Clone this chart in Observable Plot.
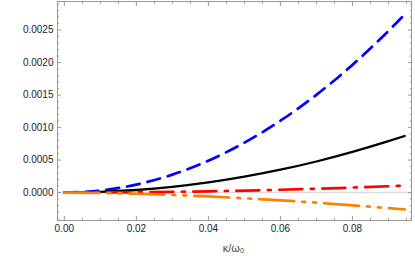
<!DOCTYPE html>
<html>
<head>
<meta charset="utf-8">
<script src="https://cdn.jsdelivr.net/npm/d3@7"></script>
<script src="https://cdn.jsdelivr.net/npm/@observablehq/plot@0.6"></script>
<style>
  html, body { margin: 0; padding: 0; background: #fff; }
  #chart svg { display: block; }
</style>
</head>
<body>
<div id="chart"></div>
<script>
const kappa  = [0, 0.01, 0.02, 0.03, 0.04, 0.05, 0.06, 0.07, 0.08, 0.09, 0.0945];
const blue   = [0, 0.000031, 0.000123, 0.000276, 0.000491, 0.000768, 0.001105, 0.001504, 0.001965, 0.002487, 0.00274];
const black  = [0, 0.0000098, 0.000039, 0.000088, 0.000156, 0.000244, 0.000351, 0.000478, 0.000625, 0.00079, 0.00087];
const red    = [0, 0.0000012, 0.0000048, 0.0000108, 0.000019, 0.00003, 0.000043, 0.000059, 0.000077, 0.000097, 0.000107];
const orange = [0, -0.0000057, -0.0000186, -0.000037, -0.00006, -0.000088, -0.00012, -0.000156, -0.000196, -0.00024, -0.00026];

const xTicks = [0, 0.02, 0.04, 0.06, 0.08];
const xTickLabels = ["0.00", "0.02", "0.04", "0.06", "0.08"];
const yTicks = [0, 0.0005, 0.001, 0.0015, 0.002, 0.0025];
const yTickLabels = ["0.0000", "0.0005", "0.0010", "0.0015", "0.0020", "0.0025"];
const xMinor = [0.005, 0.01, 0.015, 0.025, 0.03, 0.035, 0.045, 0.05, 0.055, 0.065, 0.07, 0.075, 0.085, 0.09, 0.095];
const yMinor = [-0.0004, -0.0003, -0.0002, -0.0001, 0.0001, 0.0002, 0.0003, 0.0004, 0.0006, 0.0007, 0.0008, 0.0009,
  0.0011, 0.0012, 0.0013, 0.0014, 0.0016, 0.0017, 0.0018, 0.0019, 0.0021, 0.0022, 0.0023, 0.0024, 0.0026, 0.0027, 0.0028, 0.0029];
const xLabel = "κ/ω₀";

const series = [
  {name: "blue", values: blue, color: "#0000ff", dash: "13,8", width: 2.7},
  {name: "black", values: black, color: "#000000", dash: null, width: 2.3},
  {name: "red", values: red, color: "#ff0000", dash: "23,8.5,3,8.5", width: 2.7},
  {name: "orange", values: orange, color: "#ff8000", dash: "35,8,3,8,3,8", width: 2.7}
];

const lineMarks = series.map(s => Plot.line(kappa.map((k, i) => ({k, v: s.values[i]})), {
  x: "k", y: "v", stroke: s.color, strokeWidth: s.width, strokeDasharray: s.dash, curve: "monotone-x"
}));

const fmtX = d => xTickLabels[xTicks.indexOf(d)];
const fmtY = d => yTickLabels[yTicks.indexOf(d)];
const tickColor = "#999";

const chart = Plot.plot({
  width: 415,
  height: 258,
  marginLeft: 57,
  marginRight: 4,
  marginTop: 1,
  marginBottom: 38,
  style: {fontFamily: "Liberation Sans, Arial, sans-serif", fontSize: "10px", color: "#222", background: "#fff"},
  x: {domain: [-0.0019, 0.0964]},
  y: {domain: [-0.00043, 0.00294]},
  marks: [
    Plot.ruleY([0], {stroke: "#dcdcdc", strokeWidth: 1.5}),
    ...lineMarks,
    Plot.frame({stroke: tickColor, strokeWidth: 1}),
    Plot.axisX(xTicks, {anchor: "bottom", tickSize: -4, tickPadding: 8, tickFormat: fmtX, stroke: tickColor, label: null, fill: "#222"}),
    Plot.axisX(xMinor, {anchor: "bottom", tickSize: -2, tickFormat: () => "", stroke: tickColor, label: null}),
    Plot.axisX(xTicks, {anchor: "top", tickSize: -4, tickFormat: () => "", stroke: tickColor, label: null}),
    Plot.axisX(xMinor, {anchor: "top", tickSize: -2, tickFormat: () => "", stroke: tickColor, label: null}),
    Plot.axisY(yTicks, {anchor: "left", tickSize: -4, tickPadding: 8, tickFormat: fmtY, stroke: tickColor, label: null, fill: "#222"}),
    Plot.axisY(yMinor, {anchor: "left", tickSize: -2, tickFormat: () => "", stroke: tickColor, label: null}),
    Plot.axisY(yTicks, {anchor: "right", tickSize: -4, tickFormat: () => "", stroke: tickColor, label: null}),
    Plot.axisY(yMinor, {anchor: "right", tickSize: -2, tickFormat: () => "", stroke: tickColor, label: null}),
    Plot.text([xLabel], {frameAnchor: "bottom", dy: 24, dx: -1, text: d => d, fill: "#444", fontSize: 11, lineAnchor: "top"})
  ]
});
document.getElementById("chart").appendChild(chart);
</script>
</body>
</html>
